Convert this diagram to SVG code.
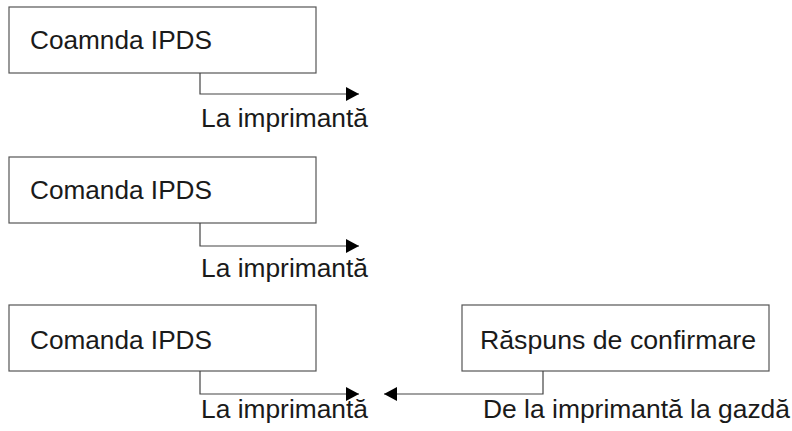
<svg xmlns="http://www.w3.org/2000/svg" width="792" height="431" viewBox="0 0 792 431">
<defs>
<marker id="ah" viewBox="0 0 13 14" refX="13" refY="7" markerWidth="13" markerHeight="14" markerUnits="userSpaceOnUse" orient="auto">
<path d="M0,0 L13,7 L0,14 Z" fill="#000"/>
</marker>
<style>
.box{fill:#fff;stroke:#555;stroke-width:1.2}
.t{font-family:"Liberation Sans",Arial,sans-serif;font-size:26px;fill:#1a1a1a}
.c{fill:none;stroke:#444;stroke-width:1.2}
</style>
</defs>
<rect width="792" height="431" fill="#fff"/>
<g id="node1">
<rect class="box" x="9" y="7" width="307" height="66"/>
<text class="t" x="30" y="49" textLength="182" lengthAdjust="spacingAndGlyphs">Coamnda IPDS</text>
</g>
<g id="node2">
<rect class="box" x="9" y="157" width="307" height="66"/>
<text class="t" x="30" y="199" textLength="182" lengthAdjust="spacingAndGlyphs">Comanda IPDS</text>
</g>
<g id="node3">
<rect class="box" x="9" y="305" width="307" height="66"/>
<text class="t" x="30" y="349" textLength="182" lengthAdjust="spacingAndGlyphs">Comanda IPDS</text>
</g>
<g id="node4">
<rect class="box" x="462" y="305" width="307" height="66"/>
<text class="t" x="480" y="349" textLength="276" lengthAdjust="spacingAndGlyphs">Răspuns de confirmare</text>
</g>
<g id="connectors">
<path class="c" d="M200,73 V94 H359" marker-end="url(#ah)"/>
<path class="c" d="M200,223 V246 H359" marker-end="url(#ah)"/>
<path class="c" d="M200,371 V394 H359" marker-end="url(#ah)"/>
<path class="c" d="M543,371 V394 H384" marker-end="url(#ah)"/>
</g>
<g id="labels">
<text class="t" x="201" y="127" textLength="167" lengthAdjust="spacingAndGlyphs">La imprimantă</text>
<text class="t" x="201" y="277" textLength="167" lengthAdjust="spacingAndGlyphs">La imprimantă</text>
<text class="t" x="201" y="418" textLength="167" lengthAdjust="spacingAndGlyphs">La imprimantă</text>
<text class="t" x="483" y="418" textLength="307" lengthAdjust="spacingAndGlyphs">De la imprimantă la gazdă</text>
</g>
</svg>
